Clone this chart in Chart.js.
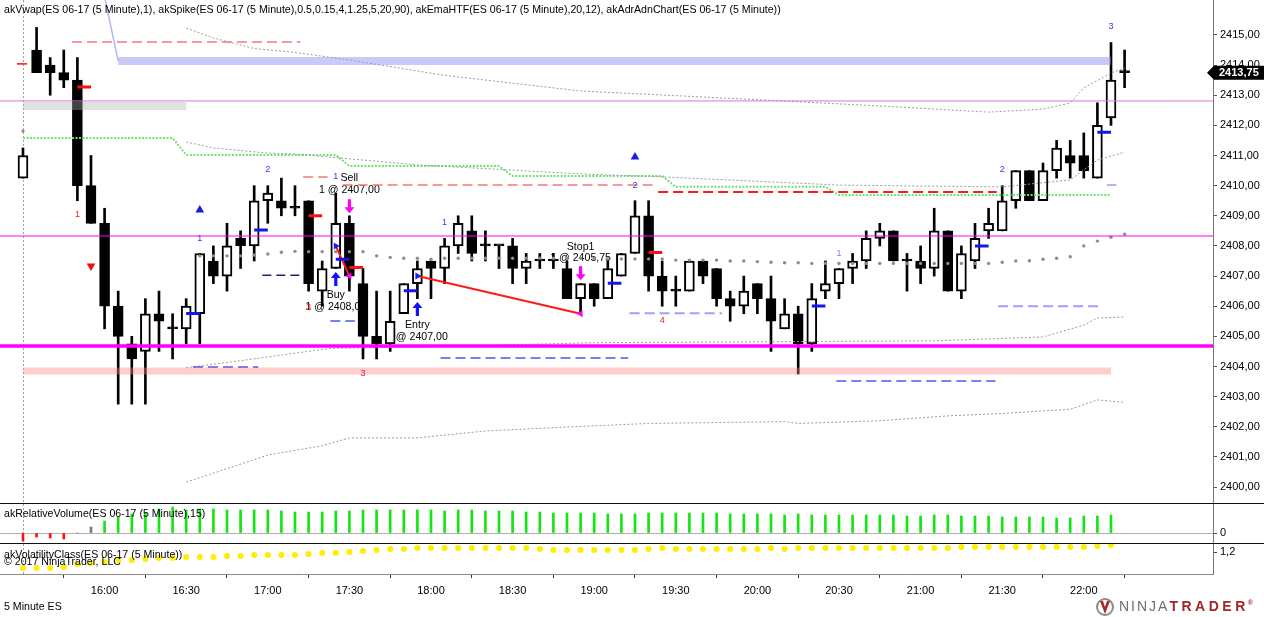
<!DOCTYPE html>
<html>
<head>
<meta charset="utf-8">
<title>ES 06-17 (5 Minute)</title>
<script src="https://cdn.jsdelivr.net/npm/chart.js@4.4.1/dist/chart.umd.min.js"></script>
<style>
html,body{margin:0;padding:0;background:#fff;overflow:hidden;}
#box{width:1264px;height:617px;position:relative;}
canvas{display:block;}
</style>
</head>
<body>
<div id="box"><canvas id="c" width="1264" height="617"></canvas></div>
<script>
// ---------------- axis ranges / tick labels ----------------
const X_MIN = -1.69, X_MAX = 87.5;
const P_MIN = 2399.47, P_MAX = 2416.16;
const timeLabels = ['16:00','16:30','17:00','17:30','18:00','18:30','19:00','19:30','20:00','20:30','21:00','21:30','22:00'];
const timeTickBars = [6,12,18,24,30,36,42,48,54,60,66,72,78];
const priceTicks = [2400,2401,2402,2403,2404,2405,2406,2407,2408,2409,2410,2411,2412,2413,2414,2415];
const volumeTicks = [0];
const volatilityTicks = [1.2];
const sessionBreakBar = 0;

// ---------------- texts ----------------
const priceTitle = 'akVwap(ES 06-17 (5 Minute),1), akSpike(ES 06-17 (5 Minute),0.5,0.15,4,1.25,5,20,90), akEmaHTF(ES 06-17 (5 Minute),20,12), akAdrAdnChart(ES 06-17 (5 Minute))';
const volumeTitle = 'akRelativeVolume(ES 06-17 (5 Minute),15)';
const volatilityTitle = 'akVolatilityClass(ES 06-17 (5 Minute))';
const copyright = '\u00A9 2017 NinjaTrader, LLC';
const instrumentLabel = '5 Minute ES';

// ---------------- candles (bar 0 = 15:30 ... bar 81 = 22:15) ----------------
const opens = [2410.25,2414.5,2414.0,2413.75,2413.5,2410.0,2408.75,2406.0,2404.75,2404.5,
 2405.75,2405.25,2405.25,2405.75,2407.5,2407.0,2408.25,2408.0,2409.5,2409.5,
 2409.25,2409.5,2406.5,2407.25,2408.75,2406.75,2405.0,2404.75,2405.75,2406.75,
 2407.5,2407.25,2408.0,2408.5,2408.0,2408.0,2408.0,2407.25,2407.5,2407.5,
 2407.25,2406.25,2406.75,2406.25,2407.0,2407.75,2409.0,2407.0,2406.5,2406.5,
 2407.5,2407.25,2406.25,2406.0,2406.75,2406.25,2405.25,2405.75,2404.75,2406.5,
 2406.75,2407.25,2407.5,2408.25,2408.5,2407.5,2407.5,2407.25,2408.5,2406.5,
 2407.5,2408.5,2408.5,2409.5,2410.5,2409.5,2410.5,2411.0,2411.0,2410.25,
 2412.25,2413.75];
const highs = [2411.25,2415.25,2414.25,2414.5,2414.25,2411.0,2409.25,2406.5,2405.0,2406.25,
 2406.5,2405.75,2406.25,2407.75,2408.0,2408.75,2408.5,2410.0,2410.0,2410.25,
 2410.0,2409.5,2407.5,2409.75,2409.0,2407.25,2406.5,2406.5,2406.75,2407.5,
 2407.5,2408.25,2409.0,2409.0,2408.5,2408.0,2408.25,2407.75,2407.75,2407.75,
 2407.5,2406.75,2406.75,2407.5,2407.75,2409.5,2409.5,2407.5,2407.0,2407.5,
 2407.5,2407.25,2406.5,2407.0,2406.75,2407.0,2406.25,2406.0,2406.75,2407.5,
 2407.25,2407.75,2408.5,2408.75,2408.5,2407.75,2408.0,2409.25,2408.5,2408.0,
 2408.75,2409.25,2410.0,2410.5,2410.5,2410.75,2411.5,2411.5,2411.75,2412.75,
 2414.75,2414.5];
const lows = [2410.25,2413.75,2413.0,2413.25,2409.5,2408.75,2405.25,2402.75,2402.75,2402.75,
 2404.5,2404.25,2404.75,2404.75,2406.75,2406.5,2407.25,2407.5,2408.75,2409.0,
 2409.0,2406.5,2406.0,2407.25,2406.5,2404.25,2404.25,2404.5,2405.75,2406.25,
 2406.25,2406.75,2407.75,2407.5,2407.5,2407.25,2406.75,2406.75,2407.25,2407.25,
 2406.25,2405.75,2406.0,2406.25,2407.0,2407.75,2406.5,2406.0,2406.0,2406.5,
 2406.75,2406.0,2405.5,2405.75,2405.75,2404.5,2405.25,2403.75,2404.5,2406.25,
 2406.25,2406.75,2407.25,2408.0,2407.5,2406.5,2406.75,2407.0,2406.5,2406.25,
 2407.25,2408.25,2408.5,2409.25,2409.5,2409.5,2410.25,2410.25,2410.25,2410.25,
 2412.0,2413.25];
const closes = [2411.0,2413.75,2413.75,2413.5,2410.0,2408.75,2406.0,2405.0,2404.25,2405.75,
 2405.5,2405.25,2406.0,2407.75,2407.0,2408.0,2408.0,2409.5,2409.75,2409.25,
 2409.25,2406.75,2407.25,2408.75,2407.0,2405.0,2404.75,2405.5,2406.75,2407.25,
 2407.25,2408.0,2408.75,2407.75,2408.0,2408.0,2407.25,2407.5,2407.5,2407.5,
 2406.25,2406.75,2406.25,2407.25,2407.75,2409.0,2407.0,2406.5,2406.5,2407.5,
 2407.0,2406.25,2406.0,2406.5,2406.25,2405.5,2405.75,2404.75,2406.25,2406.75,
 2407.25,2407.5,2408.25,2408.5,2407.5,2407.5,2407.25,2408.5,2406.5,2407.75,
 2408.25,2408.75,2409.5,2410.5,2409.5,2410.5,2411.25,2410.75,2410.5,2412.0,
 2413.5,2413.75];

// ---------------- indicator series ----------------
const vwap = [2411.81,null,null,null,null,null,null,null,null,null,
 null,null,null,2407.67,2407.67,2407.67,2407.67,2407.70,2407.73,2407.79,
 2407.82,2407.81,2407.81,2407.81,2407.81,2407.81,2407.67,2407.62,2407.59,2407.59,
 2407.56,2407.59,2407.59,2407.59,2407.59,2407.59,2407.59,2407.59,2407.59,2407.59,
 2407.59,2407.59,2407.59,2407.57,2407.57,2407.57,2407.57,2407.57,2407.53,2407.53,
 2407.53,2407.53,2407.50,2407.50,2407.48,2407.46,2407.44,2407.44,2407.42,2407.42,
 2407.42,2407.42,2407.42,2407.42,2407.42,2407.42,2407.42,2407.42,2407.42,2407.42,
 2407.42,2407.42,2407.46,2407.50,2407.51,2407.56,2407.59,2407.64,2408.00,2408.16,
 2408.29,2408.39];
const vwapUpper2 = [[12,2415.23],[14,2414.9],[17,2414.55],[20,2414.42],[24,2414.17],[31,2413.66],[41,2413.14],[55,2412.83],[64,2412.62],[71,2412.44],[75,2412.54],[77,2412.74],[78,2413.24],[80,2413.74],[81,2413.9]];
const vwapUpper1 = [[12,2411.45],[14,2411.25],[18,2411.08],[20,2411.05],[29,2410.69],[41,2410.39],[47,2410.29],[60,2410.02],[65,2409.99],[72,2409.96],[77,2410.19],[79,2410.85],[81,2411.11]];
const vwapLower1 = [[12,2403.96],[15.5,2404.16],[19,2404.38],[22.6,2404.6],[31,2404.66],[42,2404.79],[67,2404.85],[75,2404.98],[78,2405.37],[79,2405.61],[81,2405.64]];
const vwapLower2 = [[12,2400.16],[18,2401.06],[22,2401.37],[24,2401.63],[29,2401.63],[34,2401.86],[39,2401.97],[46,2402.11],[56,2402.17],[57,2402.11],[63,2402.2],[68,2402.36],[72,2402.44],[77,2402.58],[79,2402.89],[81,2402.81]];
const htfEma = [2411.58,2411.58,2411.58,2411.58,2411.58,2411.58,2411.58,2411.58,2411.58,2411.58,2411.58,2411.58,
 2411.02,2411.02,2411.02,2411.02,2411.02,2411.02,2411.02,2411.02,2411.02,2411.02,2411.02,2411.02,
 2410.65,2410.65,2410.65,2410.65,2410.65,2410.65,2410.65,2410.65,2410.65,2410.65,2410.65,2410.65,
 2410.32,2410.32,2410.32,2410.32,2410.32,2410.32,2410.32,2410.32,2410.32,2410.32,2410.32,2410.32,
 2409.96,2409.96,2409.96,2409.96,2409.96,2409.96,2409.96,2409.96,2409.96,2409.96,2409.96,2409.96,
 2409.69,2409.69,2409.69,2409.69,2409.69,2409.69,2409.69,2409.69,2409.69,2409.69,2409.69,
 2409.69,2409.69,2409.69,2409.69,2409.69,2409.69,2409.69,2409.69,2409.69,2409.69];
const relVolume = [-8,-4,-5,-6,0,6,12,16,19,20,
 24,26,23,24,24,23,23,23,23,22,
 21,21,21,22,22,23,23,23,23,23,
 23,22,23,23,22,22,22,21,21,20,
 20,20,20,19,19,19,20,20,20,20,
 20,20,19,19,19,19,18,19,18,18,
 18,18,18,18,18,17,17,18,18,17,
 17,17,16,16,16,16,15,15,17,17,
 18];
const volatility = [1.04,1.04,1.04,1.05,1.08,1.09,1.10,1.12,1.12,1.13,
 1.14,1.14,1.15,1.15,1.15,1.16,1.16,1.17,1.17,1.17,
 1.17,1.18,1.19,1.19,1.20,1.21,1.22,1.23,1.23,1.24,
 1.24,1.24,1.24,1.24,1.24,1.24,1.24,1.24,1.23,1.22,
 1.22,1.22,1.22,1.22,1.22,1.22,1.23,1.24,1.23,1.23,
 1.23,1.23,1.23,1.23,1.23,1.24,1.23,1.24,1.24,1.24,
 1.24,1.24,1.24,1.24,1.24,1.24,1.24,1.24,1.24,1.25,
 1.25,1.25,1.25,1.25,1.25,1.25,1.25,1.25,1.25,1.26,
 1.27];

// ---------------- levels, zones, segments [fromBar, toBar, price] ----------------
const keyLevels = [2412.81, 2408.33, 2404.68];
const prevCloseZone = [0, 12, 2412.64];
const adrHighPath = [[6,2416.26],[7,2414.14],[80,2414.14]];
const adrLowZone = [0, 80, 2403.85];
const salmonDash = [[3.6,20.4,2414.77],[20.6,22.4,2410.29],[23.5,46.5,2410.02]];
const redDash = [[46.7,71.6,2409.79]];
const blueDash = [[12.5,17.3,2403.98],[22.6,24.4,2405.51],[30.7,44.5,2404.28],[59.8,71.5,2403.52]];
const navyDash = [[17.6,20.4,2407.03]];
const lavenderDash = [[44.6,51.4,2405.77],[71.7,79.4,2406.0]];
const blueMarks = [[12,13,2405.76],[17,18,2408.53],[23,24,2407.56],[28,29,2406.51],[43,44,2406.76],[58,59,2406.01],[70,71,2408.0],[79,80,2411.77]];
const redMarks = [[4,5,2413.27],[21,22,2409.0],[24,25,2407.28],[46,47,2407.78]];
const openMark = [[-0.45,0.3,2414.04]];
const targetMark = [[79.7,80.4,2410.02]];

// ---------------- trades & signals [bar, price] ----------------
const tradeLines = [[23,2408.0,24,2407.0],[29,2407.0,41,2405.75]];
const entryFills = [[23,2408.0],[29,2407.0]];
const exitFills = [[24,2407.0],[41,2405.75]];
const buyArrows = [[23,2406.9],[29,2405.91]];
const sellArrows = [[24,2409.32],[41,2407.09]];
const tradeLabels = [[24,2410.25,'Sell'],[24,2409.86,'1 @ 2407,00'],[23,2406.37,'Buy'],[23,2405.97,'1 @ 2408,00'],
 [29,2405.37,'Entry'],[29,2404.98,'1 @ 2407,00'],[41,2407.96,'Stop1'],[41,2407.6,'1 @ 2405,75']];
const spikeUp = [[13,2409.19],[45,2410.95]];
const spikeDown = [[5,2407.33]];
const redCounts = [[4,2409.03,'1'],[21,2405.97,'3'],[25,2403.75,'3'],[47,2405.51,'4']];
const blueCounts = [[13,2408.26,'1'],[18,2410.52,'2'],[23,2410.29,'1'],[31,2408.79,'1'],[45,2410.02,'2'],[72,2410.52,'2'],[80,2415.27,'3']];
const violetCounts = [[60,2407.76,'1']];

// ---------------- helpers ----------------
const FAM = '"Liberation Sans", Arial, sans-serif';
Chart.defaults.font.family = FAM;
Chart.defaults.font.size = 11;
Chart.defaults.color = '#000';

const fmt2 = v => Number(v).toFixed(2).replace('.', ',');
const pts = list => list.map(([i, p]) => ({x: i, y: p}));
const segs = list => { const o = []; list.forEach(([a, b, p]) => o.push({x: a, y: p}, {x: b, y: p}, {x: b, y: null})); return o; };
const series = arr => arr.map((v, i) => ({x: i, y: v}));

function lineDs(data, color, width, dash, order, extra) {
  return Object.assign({type: 'line', data, borderColor: color, borderWidth: width, borderDash: dash || [],
    pointRadius: 0, fill: false, tension: 0, order: order, yAxisID: 'y', spanGaps: false, borderCapStyle: 'butt'}, extra || {});
}
function markerDs(data, color, style, radius, rotation, order) {
  return {type: 'line', data, showLine: false, pointStyle: style, pointRadius: radius, rotation: rotation,
    pointBackgroundColor: color, pointBorderColor: color, pointBorderWidth: 0, order: order, yAxisID: 'y'};
}
function drawArrow(ctx, cx, cy, dir, color) {
  const h = 14, hh = 6, hw = 5, sw = 1.6;
  const tip = cy + dir * h / 2, tail = cy - dir * h / 2, neck = tip - dir * hh;
  ctx.fillStyle = color;
  ctx.beginPath();
  ctx.moveTo(cx, tip); ctx.lineTo(cx + hw, neck); ctx.lineTo(cx + sw, neck); ctx.lineTo(cx + sw, tail);
  ctx.lineTo(cx - sw, tail); ctx.lineTo(cx - sw, neck); ctx.lineTo(cx - hw, neck); ctx.closePath(); ctx.fill();
}

const barIdx = opens.map((_, i) => i);
const wickData = barIdx.map(i => ({x: i, y: [lows[i], highs[i]]}));
const bodyData = barIdx.map(i => ({x: i, y: [opens[i], closes[i]]}));
const bodyFill = barIdx.map(i => closes[i] > opens[i] ? '#ffffff' : '#000000');
const volColors = relVolume.map(v => v < 0 ? '#ff1010' : (v < 10 ? '#7a7a7a' : '#14e614'));

const datasets = [
  // zones / bands (drawn above candles, translucent)
  lineDs([{x: prevCloseZone[0], y: prevCloseZone[2]}, {x: prevCloseZone[1], y: prevCloseZone[2]}], 'rgba(175,175,175,0.38)', 8, [], 3),
  lineDs(pts(adrHighPath.slice(0, 2)), 'rgba(150,150,240,0.7)', 1.5, [], 3),
  lineDs(pts(adrHighPath.slice(1)), 'rgba(150,150,240,0.5)', 8, [], 3),
  lineDs([{x: adrLowZone[0], y: adrLowZone[2]}, {x: adrLowZone[1], y: adrLowZone[2]}], 'rgba(255,130,130,0.4)', 7, [], 3),
  // key levels
  lineDs([{x: X_MIN, y: keyLevels[0]}, {x: X_MAX, y: keyLevels[0]}], '#d878d8', 1, [], 2),
  lineDs([{x: X_MIN, y: keyLevels[1]}, {x: X_MAX, y: keyLevels[1]}], '#ff00ff', 1.2, [], 2),
  lineDs([{x: X_MIN, y: keyLevels[2]}, {x: X_MAX, y: keyLevels[2]}], '#ff00ff', 3.5, [], 2),
  // vwap bands
  lineDs(pts(vwapUpper2), '#9c9c9c', 1, [2, 2], 4),
  lineDs(pts(vwapUpper1), '#9c9c9c', 1, [2, 2], 4),
  lineDs(pts(vwapLower1), '#9c9c9c', 1, [2, 2], 4),
  lineDs(pts(vwapLower2), '#9c9c9c', 1, [2, 2], 4),
  // higher timeframe EMA
  lineDs(series(htfEma), '#6ee46e', 2, [2, 1.5], 4),
  // dashed target / stop lines
  lineDs(segs(salmonDash), '#f07a7a', 1.5, [10, 5], 2),
  lineDs(segs(redDash), '#ff1a1a', 1.8, [10, 5], 2),
  lineDs(segs(blueDash), '#4f5ae8', 1.5, [10, 5], 2),
  lineDs(segs(navyDash), '#1c2470', 1.5, [9, 5], 2),
  lineDs(segs(lavenderDash), '#9ea2f2', 2, [10, 5], 2),
  // short markers
  lineDs(segs(blueMarks), '#1414f0', 3, [], 1),
  lineDs(segs(redMarks), '#ff1010', 3, [], 1),
  lineDs(segs(openMark), '#ff1010', 1.5, [], 1),
  lineDs(segs(targetMark), '#5a6af0', 1, [], 1),
  // trade lines
  lineDs(tradeLines.flatMap(([a, p, b, q]) => [{x: a, y: p}, {x: b, y: q}, {x: b, y: null}]), '#ff1a1a', 2, [], 1),
  // markers
  markerDs(pts(entryFills), '#1a1aff', 'triangle', 4, 90, 0),
  markerDs(pts(exitFills), '#ff00ff', 'triangle', 4, 270, 0),
  markerDs(pts(spikeUp), '#1a1ae0', 'triangle', 5, 0, 0),
  markerDs(pts(spikeDown), '#e81010', 'triangle', 5, 180, 0),
  // vwap dots
  markerDs(series(vwap), '#8c8c8c', 'circle', 1.7, 0, 5),
  // candles
  {type: 'bar', data: bodyData, yAxisID: 'y', grouped: false, barThickness: 10, minBarLength: 2,
   backgroundColor: bodyFill, borderColor: '#000', borderWidth: 2, borderSkipped: false, order: 10},
  {type: 'bar', data: wickData, yAxisID: 'y', grouped: false, barThickness: 2,
   backgroundColor: '#000', borderWidth: 0, order: 11},
  // relative volume
  {type: 'bar', data: series(relVolume), yAxisID: 'yv', grouped: false, barThickness: 2,
   backgroundColor: volColors, borderWidth: 0, order: 12},
  // volatility class
  {type: 'line', data: series(volatility), yAxisID: 'yc', showLine: false, pointRadius: 3,
   pointBackgroundColor: '#ffee00', pointBorderColor: '#ffee00', pointBorderWidth: 0, order: 12}
];

const decor = {
  id: 'decor',
  beforeDatasetsDraw(chart) {
    const {ctx, chartArea: a, scales: {x, y}} = chart;
    ctx.save();
    ctx.strokeStyle = '#a0a0a0'; ctx.lineWidth = 1; ctx.setLineDash([2, 2]);
    const sx = Math.round(x.getPixelForValue(sessionBreakBar)) + 0.5;
    ctx.beginPath(); ctx.moveTo(sx, a.top); ctx.lineTo(sx, a.bottom); ctx.stroke();
    ctx.setLineDash([]);
    ctx.font = '10.6px ' + FAM; ctx.fillStyle = '#000'; ctx.textAlign = 'center'; ctx.textBaseline = 'middle';
    tradeLabels.forEach(([i, p, t]) => ctx.fillText(t, x.getPixelForValue(i), y.getPixelForValue(p)));
    ctx.restore();
  },
  afterDatasetsDraw(chart) {
    const {ctx, chartArea: a, scales: {x, y, yv, yc}, width: W, height: H} = chart;
    ctx.save();
    buyArrows.forEach(([i, p]) => drawArrow(ctx, x.getPixelForValue(i), y.getPixelForValue(p), -1, '#1010ff'));
    sellArrows.forEach(([i, p]) => drawArrow(ctx, x.getPixelForValue(i), y.getPixelForValue(p), 1, '#ff00ff'));
    ctx.font = '9px ' + FAM; ctx.textAlign = 'center'; ctx.textBaseline = 'middle';
    [[redCounts, '#e42222'], [blueCounts, '#3535e8'], [violetCounts, '#9474ec']].forEach(([list, col]) => {
      ctx.fillStyle = col;
      list.forEach(([i, p, t]) => ctx.fillText(t, x.getPixelForValue(i), y.getPixelForValue(p)));
    });
    // panel separators
    ctx.strokeStyle = '#111'; ctx.lineWidth = 1;
    [yv.top, yc.top].forEach(t => { const yy = Math.round(t) + 0.5; ctx.beginPath(); ctx.moveTo(0, yy); ctx.lineTo(W, yy); ctx.stroke(); });
    // titles
    ctx.fillStyle = '#000'; ctx.textAlign = 'left'; ctx.textBaseline = 'middle'; ctx.font = '10.6px ' + FAM;
    ctx.fillText(priceTitle, 4, a.top + 10);
    ctx.fillText(volumeTitle, 4, yv.top + 11);
    ctx.fillText(volatilityTitle, 4, yc.top + 12);
    ctx.fillText(copyright, 4, yc.top + 19);
    ctx.fillText(instrumentLabel, 4, H - 10);
    // last price box
    const last = closes[closes.length - 1];
    const by = y.getPixelForValue(last), bx = a.right;
    ctx.fillStyle = '#000';
    ctx.beginPath(); ctx.moveTo(bx - 6, by); ctx.lineTo(bx + 1, by - 7); ctx.lineTo(W, by - 7); ctx.lineTo(W, by + 7); ctx.lineTo(bx + 1, by + 7); ctx.closePath(); ctx.fill();
    ctx.fillStyle = '#fff'; ctx.font = 'bold 11px ' + FAM; ctx.fillText(fmt2(last), bx + 6, by + 0.5);
    // NinjaTrader logo
    const ly = H - 10;
    ctx.strokeStyle = '#8c8c8c'; ctx.lineWidth = 2; ctx.beginPath(); ctx.arc(1105, ly, 8, 0, Math.PI * 2); ctx.stroke();
    ctx.fillStyle = '#a52a2a'; ctx.beginPath(); ctx.moveTo(1100, ly - 6); ctx.lineTo(1105, ly + 7); ctx.lineTo(1110, ly - 6);
    ctx.lineTo(1107, ly - 6); ctx.lineTo(1105, ly); ctx.lineTo(1103, ly - 6); ctx.closePath(); ctx.fill();
    ctx.font = '14px ' + FAM; ctx.letterSpacing = '2px'; ctx.fillStyle = '#6e6e6e';
    ctx.fillText('NINJA', 1119, ly);
    const w1 = ctx.measureText('NINJA').width;
    ctx.font = 'bold 14px ' + FAM; ctx.letterSpacing = '3.5px'; ctx.fillStyle = '#a3262a';
    ctx.fillText('TRADER', 1119 + w1, ly);
    const w2 = ctx.measureText('TRADER').width;
    ctx.letterSpacing = '0px'; ctx.font = 'bold 7px ' + FAM; ctx.fillText('\u00AE', 1119 + w1 + w2 - 1, ly - 4);
    ctx.restore();
  }
};

new Chart(document.getElementById('c'), {
  type: 'bar',
  data: {datasets},
  plugins: [decor],
  options: {
    responsive: false, animation: false, events: [],
    layout: {padding: 0, autoPadding: false},
    plugins: {legend: {display: false}, tooltip: {enabled: false}, title: {display: false}},
    scales: {
      x: {type: 'linear', position: 'bottom', min: X_MIN, max: X_MAX, offset: false,
        grid: {display: true, drawOnChartArea: false, drawTicks: true, tickLength: 4, color: '#333'},
        border: {display: true, color: '#8a8a8a'},
        ticks: {autoSkip: false, maxRotation: 0, padding: 6, color: '#000', font: {size: 11}, callback: (v, i) => timeLabels[i]},
        afterBuildTicks: s => { s.ticks = timeTickBars.map(v => ({value: v})); },
        afterFit: s => { s.height = 43; s.paddingLeft = 0; s.paddingRight = 0; }
      },
      y: {type: 'linear', position: 'right', stack: 'r', stackWeight: 503, min: P_MIN, max: P_MAX,
        grid: {drawOnChartArea: false, drawTicks: true, tickLength: 4, color: '#555'},
        border: {display: true, color: '#777'},
        ticks: {autoSkip: false, padding: 3, color: '#000', font: {size: 11}, callback: v => fmt2(v)},
        afterBuildTicks: s => { s.ticks = priceTicks.map(v => ({value: v})); },
        afterFit: s => { s.width = 51; s.paddingTop = 0; s.paddingBottom = 0; }
      },
      yv: {type: 'linear', position: 'right', stack: 'r', stackWeight: 40, min: -10, max: 30,
        grid: {drawOnChartArea: true, drawTicks: true, tickLength: 4, color: '#b0b0b0', tickColor: '#444'},
        border: {display: true, color: '#777'},
        ticks: {autoSkip: false, padding: 3, color: '#000', font: {size: 11}, callback: v => String(v)},
        afterBuildTicks: s => { s.ticks = volumeTicks.map(v => ({value: v})); },
        afterFit: s => { s.width = 51; s.paddingTop = 0; s.paddingBottom = 0; }
      },
      yc: {type: 'linear', position: 'right', stack: 'r', stackWeight: 31, min: 0.98, max: 1.29,
        grid: {drawOnChartArea: false, drawTicks: true, tickLength: 4, color: '#444'},
        border: {display: true, color: '#777'},
        ticks: {autoSkip: false, padding: 3, color: '#000', font: {size: 11}, callback: v => String(v).replace('.', ',')},
        afterBuildTicks: s => { s.ticks = volatilityTicks.map(v => ({value: v})); },
        afterFit: s => { s.width = 51; s.paddingTop = 0; s.paddingBottom = 0; }
      }
    }
  }
});
</script>
</body>
</html>
